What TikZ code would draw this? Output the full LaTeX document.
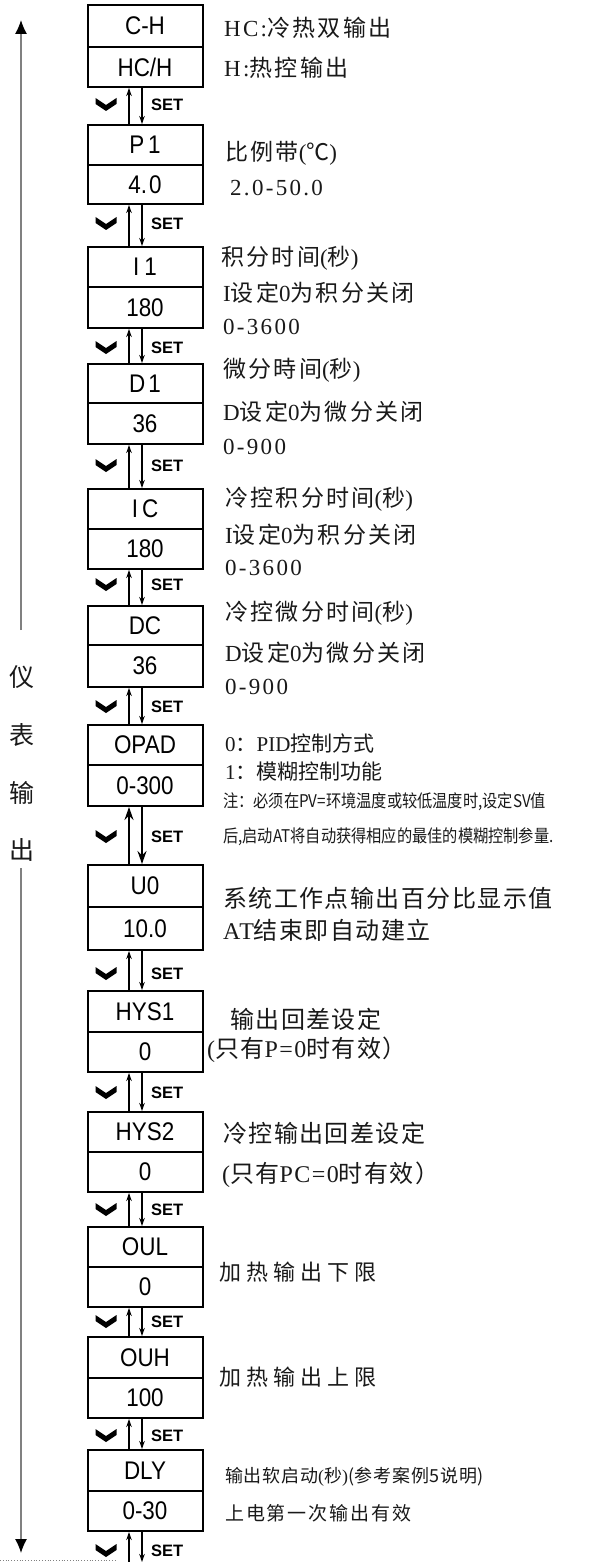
\documentclass[tikz,border=0pt]{standalone}
\usepackage{fontspec}
\setmainfont{Liberation Serif}
\newfontfamily\zhf{Noto Sans CJK SC}
\newfontfamily\zhn{Noto Sans CJK SC}[FakeStretch=0.87]
\newfontfamily\bxf{Liberation Sans}[FakeStretch=0.88]
\newfontfamily\sansf{Liberation Sans}
\usetikzlibrary{arrows.meta}
\newcommand\myls{0}
\newcommand\ltn[1]{{\rmfamily\addfontfeatures{LetterSpace=\myls}#1}}
\newcommand\dsz[2]{\renewcommand\myls{#2}\zhf\fontsize{#1}{#1}\selectfont\addfontfeatures{LetterSpace=#2}}
\newcommand\mkbox[6]{%
  \pgfmathsetmacro\mbya{(#2+#3)/2}\pgfmathsetmacro\mbha{#3-#2}%
  \pgfmathsetmacro\mbyb{(#3+#4)/2}\pgfmathsetmacro\mbhb{#4-#3}%
  \node[bx,minimum height=\mbha pt] (t#1) at (145,\mbya) {#5};
  \node[bx,minimum height=\mbhb pt] (v#1) at (145,\mbyb) {#6};}
\newcommand\mkgap[4]{%
  \draw[upar] (#2 -| ux) -- (#1 -| ux);
  \draw[dnar] (#1 -| dx) -- (#2 -| dx);
  \pic at (106,#3) {chev};
  \node[setl] (set#4) at (151,#3) {SET};}
\tikzset{
  bx/.style={draw, line width=2pt, minimum width=115pt, inner sep=0pt,
    font=\bxf\fontsize{25.5}{25.5}\selectfont},
  setl/.style={anchor=west, inner sep=0pt, font=\sansf\bfseries\fontsize{16.5}{16.5}\selectfont},
  upar/.style={line width=1.1pt, -{Stealth[length=8pt,width=5.5pt]}},
  dnar/.style={line width=1.1pt, -{Stealth[length=8pt,width=5.5pt]}},
  upbig/.style={line width=2pt, -{Stealth[length=13pt,width=9pt]}},
  chev/.pic={\fill[line join=round] (-10.5,-7) -- (0,0) -- (10.5,-7) -- (10.5,-1) -- (0,6) -- (-10.5,-1) -- cycle;},
  garr/.style={draw=gray, line width=1.2pt, -{Latex[length=14pt,width=12pt,color=black]}},
  dA/.style={anchor=west, inner sep=0pt, text=black!90, font={\dsz{23}{10}}},
  dB/.style={anchor=west, inner sep=0pt, text=black!90, font={\dsz{24}{6}}},
  dC/.style={anchor=west, inner sep=0pt, text=black!90, font={\dsz{21}{0}}},
  dN/.style={anchor=west, inner sep=0pt, text=black!90, font={\zhn\fontsize{17.5}{17.5}\selectfont}},
  dD/.style={anchor=west, inner sep=0pt, text=black!90, font={\dsz{22}{23}}},
  dE/.style={anchor=west, inner sep=0pt, text=black!90, font={\dsz{18}{4}}},
  dF/.style={anchor=west, inner sep=0pt, text=black!90, font={\dsz{19}{10}}},
  vt/.style={inner sep=0pt, text=black!90, font={\dsz{25}{0}}}
}
\begin{document}
\begin{tikzpicture}[x=1pt,y=-1pt]
\useasboundingbox (0,0) rectangle (590,1562);
\coordinate (ux) at (129,0);
\coordinate (dx) at (142,0);
\coordinate (bot) at (145,1562);
% boxes
\mkbox{1}{5}{47}{87}{C-H}{HC/H}
\mkbox{2}{125}{165}{204}{P\hspace{4pt}1}{4.\hspace{2pt}0}
\mkbox{3}{247}{287}{328}{I\hspace{5pt}1}{180}
\mkbox{4}{364}{403}{444}{D\hspace{3pt}1}{36}
\mkbox{5}{489}{529}{569}{I\hspace{4pt}C}{180}
\mkbox{6}{606}{645}{687}{DC}{36}
\mkbox{7}{725}{765}{806}{OPAD}{0-300}
\mkbox{8}{865}{907}{950}{U0}{10.0}
\mkbox{9}{991}{1032}{1072}{HYS1}{0}
\mkbox{10}{1112}{1152}{1192}{HYS2}{0}
\mkbox{11}{1227}{1267}{1307}{OUL}{0}
\mkbox{12}{1337}{1378}{1418}{OUH}{100}
\mkbox{13}{1450}{1491}{1531}{DLY}{0-30}
% gaps
\mkgap{v1.south}{t2.north}{105}{1}
\mkgap{v2.south}{t3.north}{224}{2}
\mkgap{v3.south}{t4.north}{348}{3}
\mkgap{v4.south}{t5.north}{466}{4}
\mkgap{v5.south}{t6.north}{585}{5}
\mkgap{v6.south}{t7.north}{707}{6}
\draw[upbig] (t8.north -| ux) -- (v7.south -| ux);
\draw[upbig] (v7.south -| dx) -- (t8.north -| dx);
\pic at (106,837) {chev};
\node[setl] (set7) at (151,837) {SET};
\mkgap{v8.south}{t9.north}{974}{8}
\mkgap{v9.south}{t10.north}{1093}{9}
\mkgap{v10.south}{t11.north}{1210}{10}
\mkgap{v11.south}{t12.north}{1322}{11}
\mkgap{v12.south}{t13.north}{1436}{12}
\mkgap{v13.south}{bot}{1551}{13}
% left arrow and vertical label
\coordinate (atop) at (21,20);
\coordinate (am1) at (21,630);
\coordinate (am2) at (21,868);
\coordinate (abot) at (21,1553);
\draw[garr] (am1) -- (atop);
\draw[garr] (am2) -- (abot);
\node[vt] (y1) at (22,677) {仪};
\node[vt] (y2) at (22,735) {表};
\node[vt] (y3) at (22,793) {输};
\node[vt] (y4) at (22,850) {出};
\coordinate (dl) at (0,1560);
\coordinate (dr) at (115,1560);
\draw[gray, dotted, line width=0.8pt] (dl) -- (dr);
% descriptions
\node[dA] (d1a) at (224,28) {\ltn{HC:}冷热双输出};
\node[dA] (d1b) at (224,68) {\ltn{H:}热控输出};
\node[dA] (d2a) at (225,153) {比例带\ltn{(}℃\ltn{)}};
\node[dA] (d2b) at (230,188) {\ltn{2.0-50.0}};
\node[dA] (d3a) at (221,258) {积分时间\ltn{(}秒\ltn{)}};
\node[dA] (d3b) at (223,293) {\ltn{I}设定\ltn{0}为积分关闭};
\node[dA] (d3c) at (223,327) {\ltn{0-3600}};
\node[dA] (d4a) at (223,370) {微分時间\ltn{(}秒\ltn{)}};
\node[dA] (d4b) at (223,412) {\ltn{D}设定\ltn{0}为微分关闭};
\node[dA] (d4c) at (223,447) {\ltn{0-900}};
\node[dA] (d5a) at (225,499) {冷控积分时间\ltn{(}秒\ltn{)}};
\node[dA] (d5b) at (225,535) {\ltn{I}设定\ltn{0}为积分关闭};
\node[dA] (d5c) at (225,568) {\ltn{0-3600}};
\node[dA] (d6a) at (225,613) {冷控微分时间\ltn{(}秒\ltn{)}};
\node[dA] (d6b) at (225,653) {\ltn{D}设定\ltn{0}为微分关闭};
\node[dA] (d6c) at (225,687) {\ltn{0-900}};
\node[dC] (d7a) at (225,743) {\ltn{0}：\ltn{PID}控制方式};
\node[dC] (d7b) at (225,772) {\ltn{1}：模糊控制功能};
\node[dN] (d7c) at (223,802) {注：必须在PV=环境温度或较低温度时,设定SV值};
\node[dN] (d7d) at (223,837) {后,启动AT将自动获得相应的最佳的模糊控制参量.};
\node[dB] (d8a) at (223,898) {系统工作点输出百分比显示值};
\node[dB] (d8b) at (223,930) {\ltn{AT}结束即自动建立};
\node[dB] (d9a) at (230,1019) {输出回差设定};
\node[dB] (d9b) at (207,1050) {\ltn{(}只有\ltn{P=0}时有效）};
\node[dB] (d10a) at (223,1133) {冷控输出回差设定};
\node[dB] (d10b) at (222,1175) {\ltn{(}只有\ltn{PC=0}时有效）};
\node[dD] (d11) at (219,1272) {加热输出下限};
\node[dD] (d12) at (219,1377) {加热输出上限};
\node[dE] (d13a) at (225,1477) {输出软启动\ltn{(}秒\ltn{)}(参考案例5说明)};
\node[dF] (d13b) at (225,1513) {上电第一次输出有效};
\end{tikzpicture}
\end{document}
